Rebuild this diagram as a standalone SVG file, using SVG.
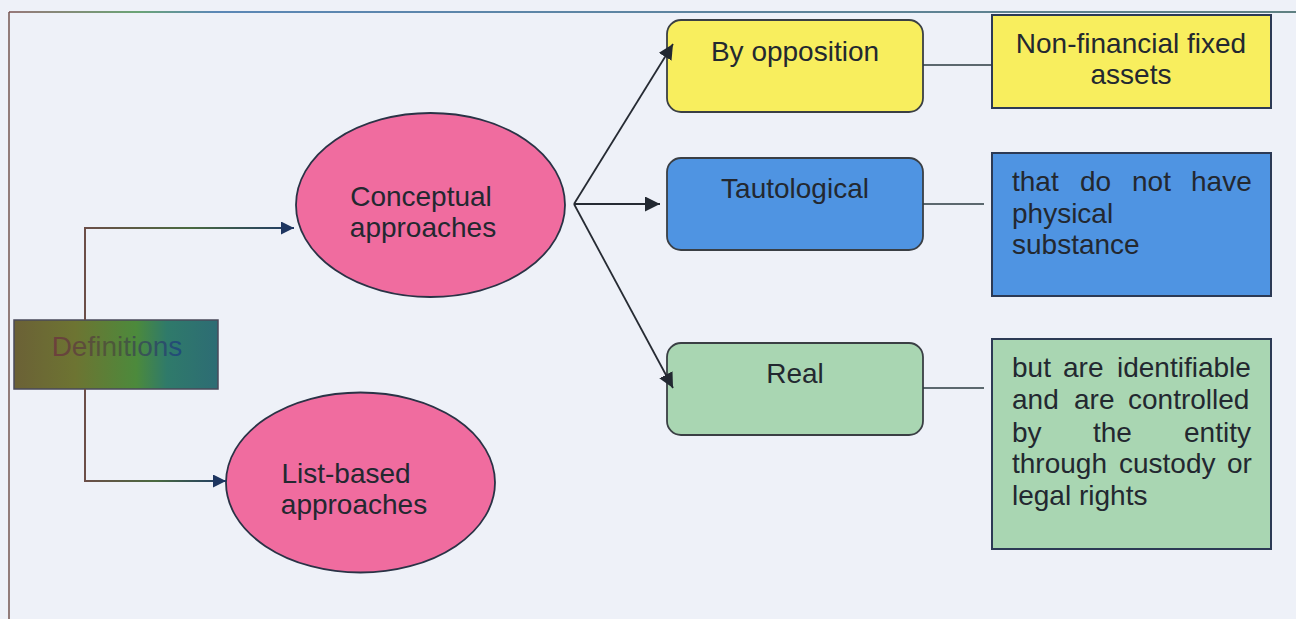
<svg xmlns="http://www.w3.org/2000/svg" width="1296" height="619" viewBox="0 0 1296 619">
  <defs>
    <linearGradient id="defFill" x1="0" y1="0" x2="1" y2="0">
      <stop offset="0" stop-color="#6b6136"/>
      <stop offset="0.3" stop-color="#6d7432"/>
      <stop offset="0.6" stop-color="#4c8a3c"/>
      <stop offset="0.75" stop-color="#2f7a6a"/>
      <stop offset="1" stop-color="#2d6c74"/>
    </linearGradient>
    <linearGradient id="defText" gradientUnits="userSpaceOnUse" x1="52" y1="0" x2="184" y2="0">
      <stop offset="0" stop-color="#6e3f3c"/>
      <stop offset="0.5" stop-color="#4a5a3a"/>
      <stop offset="1" stop-color="#1d4a80"/>
    </linearGradient>
    <linearGradient id="elbowUp" gradientUnits="userSpaceOnUse" x1="85" y1="0" x2="295" y2="0">
      <stop offset="0" stop-color="#6b4e48"/>
      <stop offset="0.5" stop-color="#4a6a40"/>
      <stop offset="1" stop-color="#1f3a66"/>
    </linearGradient>
    <linearGradient id="elbowDown" gradientUnits="userSpaceOnUse" x1="85" y1="0" x2="226" y2="0">
      <stop offset="0" stop-color="#6b4e48"/>
      <stop offset="0.5" stop-color="#4a6a40"/>
      <stop offset="1" stop-color="#1f3a66"/>
    </linearGradient>
    <linearGradient id="frameTop" gradientUnits="userSpaceOnUse" x1="9" y1="0" x2="1296" y2="0">
      <stop offset="0" stop-color="#7a5050"/>
      <stop offset="0.1" stop-color="#3f8a4a"/>
      <stop offset="0.16" stop-color="#2a64a0"/>
      <stop offset="1" stop-color="#2f5a5a"/>
    </linearGradient>
    <marker id="arrowNavy" viewBox="0 0 10 10" refX="10" refY="5" markerWidth="13" markerHeight="13" markerUnits="userSpaceOnUse" orient="auto">
      <path d="M0,0 L10,5 L0,10 z" fill="#1d3560"/>
    </marker>
    <marker id="arrowDark" viewBox="0 0 10 10" refX="10" refY="5" markerWidth="15" markerHeight="15" markerUnits="userSpaceOnUse" orient="auto">
      <path d="M0,0 L10,5 L0,10 z" fill="#222831"/>
    </marker>
  </defs>
  <style>
    text { font-family: "Liberation Sans", Arial, sans-serif; font-size: 28px; fill: #232830; }
    .mid { text-anchor: middle; }
    .pill { stroke: #3a3f44; stroke-width: 1.8; }
    .card { stroke: #2c3a55; stroke-width: 2; }
    .oval { fill: #f06c9f; stroke: #2a3346; stroke-width: 1.8; }
    .link { fill: none; stroke: #2a3a40; stroke-width: 1.6; }
    .spoke { fill: none; stroke: #262b33; stroke-width: 1.8; }
  </style>

  <!-- page background and open frame -->
  <rect x="0" y="0" width="1296" height="619" fill="#eef1f8"/>
  <path d="M9,619 V12" fill="none" stroke="#7a5f5a" stroke-width="1.6"/>
  <path d="M9,12 H1296" fill="none" stroke="url(#frameTop)" stroke-width="1.6"/>

  <!-- root node -->
  <g id="definitions">
    <rect x="14" y="320" width="204" height="69" fill="url(#defFill)" stroke="#4a4a5a" stroke-width="1.5"/>
    <text x="117" y="356" class="mid" style="fill:url(#defText)">Definitions</text>
  </g>

  <!-- approach ovals -->
  <g id="conceptual">
    <ellipse class="oval" cx="430.5" cy="205" rx="134.5" ry="92"/>
    <text x="421" y="206" class="mid">Conceptual</text>
    <text x="423" y="237" class="mid">approaches</text>
  </g>
  <g id="list-based">
    <ellipse class="oval" cx="360.5" cy="482.5" rx="134.5" ry="90"/>
    <text x="346" y="483" class="mid">List-based</text>
    <text x="354" y="514" class="mid">approaches</text>
  </g>

  <!-- criteria -->
  <g id="by-opposition">
    <rect class="pill" x="667" y="20" width="256" height="92" rx="14" fill="#f8ee5e"/>
    <text x="795" y="61" class="mid">By opposition</text>
  </g>
  <g id="tautological">
    <rect class="pill" x="667" y="158" width="256" height="92" rx="14" fill="#4f94e2"/>
    <text x="795" y="198" class="mid">Tautological</text>
  </g>
  <g id="real">
    <rect class="pill" x="667" y="343" width="256" height="92" rx="14" fill="#a9d6b2"/>
    <text x="795" y="383" class="mid">Real</text>
  </g>

  <!-- definition fragments -->
  <g id="non-financial">
    <rect class="card" x="992" y="15" width="279" height="93" fill="#f8ee5e"/>
    <text x="1131" y="53" class="mid">Non-financial fixed</text>
    <text x="1131" y="84" class="mid">assets</text>
  </g>
  <g id="no-substance">
    <rect class="card" x="992" y="153" width="279" height="143" fill="#4f94e2"/>
    <text y="191"><tspan x="1012">that</tspan><tspan x="1080">do</tspan><tspan x="1132">not</tspan><tspan x="1191">have</tspan></text>
    <text x="1012" y="223">physical</text>
    <text x="1012" y="254">substance</text>
  </g>
  <g id="identifiable">
    <rect class="card" x="992" y="339" width="279" height="210" fill="#a9d6b2"/>
    <text y="377"><tspan x="1012">but</tspan><tspan x="1063">are</tspan><tspan x="1117">identifiable</tspan></text>
    <text y="409"><tspan x="1012">and</tspan><tspan x="1074">are</tspan><tspan x="1128">controlled</tspan></text>
    <text y="442"><tspan x="1012">by</tspan><tspan x="1093">the</tspan><tspan x="1184">entity</tspan></text>
    <text y="473"><tspan x="1012">through</tspan><tspan x="1119">custody</tspan><tspan x="1227">or</tspan></text>
    <text x="1012" y="505">legal rights</text>
  </g>

  <!-- connectors, drawn last so arrowheads sit on top of the boxes -->
  <g id="connectors">
    <path d="M85,320 V228 H294" fill="none" stroke="url(#elbowUp)" stroke-width="2" marker-end="url(#arrowNavy)"/>
    <path d="M85,389 V481 H226" fill="none" stroke="url(#elbowDown)" stroke-width="2" marker-end="url(#arrowNavy)"/>
    <line class="spoke" x1="574" y1="204" x2="673" y2="44" marker-end="url(#arrowDark)"/>
    <line class="spoke" x1="574" y1="204" x2="660" y2="204" marker-end="url(#arrowDark)"/>
    <line class="spoke" x1="574" y1="204" x2="673" y2="388" marker-end="url(#arrowDark)"/>
    <line class="link" x1="923" y1="65" x2="992" y2="65"/>
    <line class="link" x1="923" y1="204" x2="984" y2="204"/>
    <line class="link" x1="923" y1="388" x2="984" y2="388"/>
  </g>
</svg>
